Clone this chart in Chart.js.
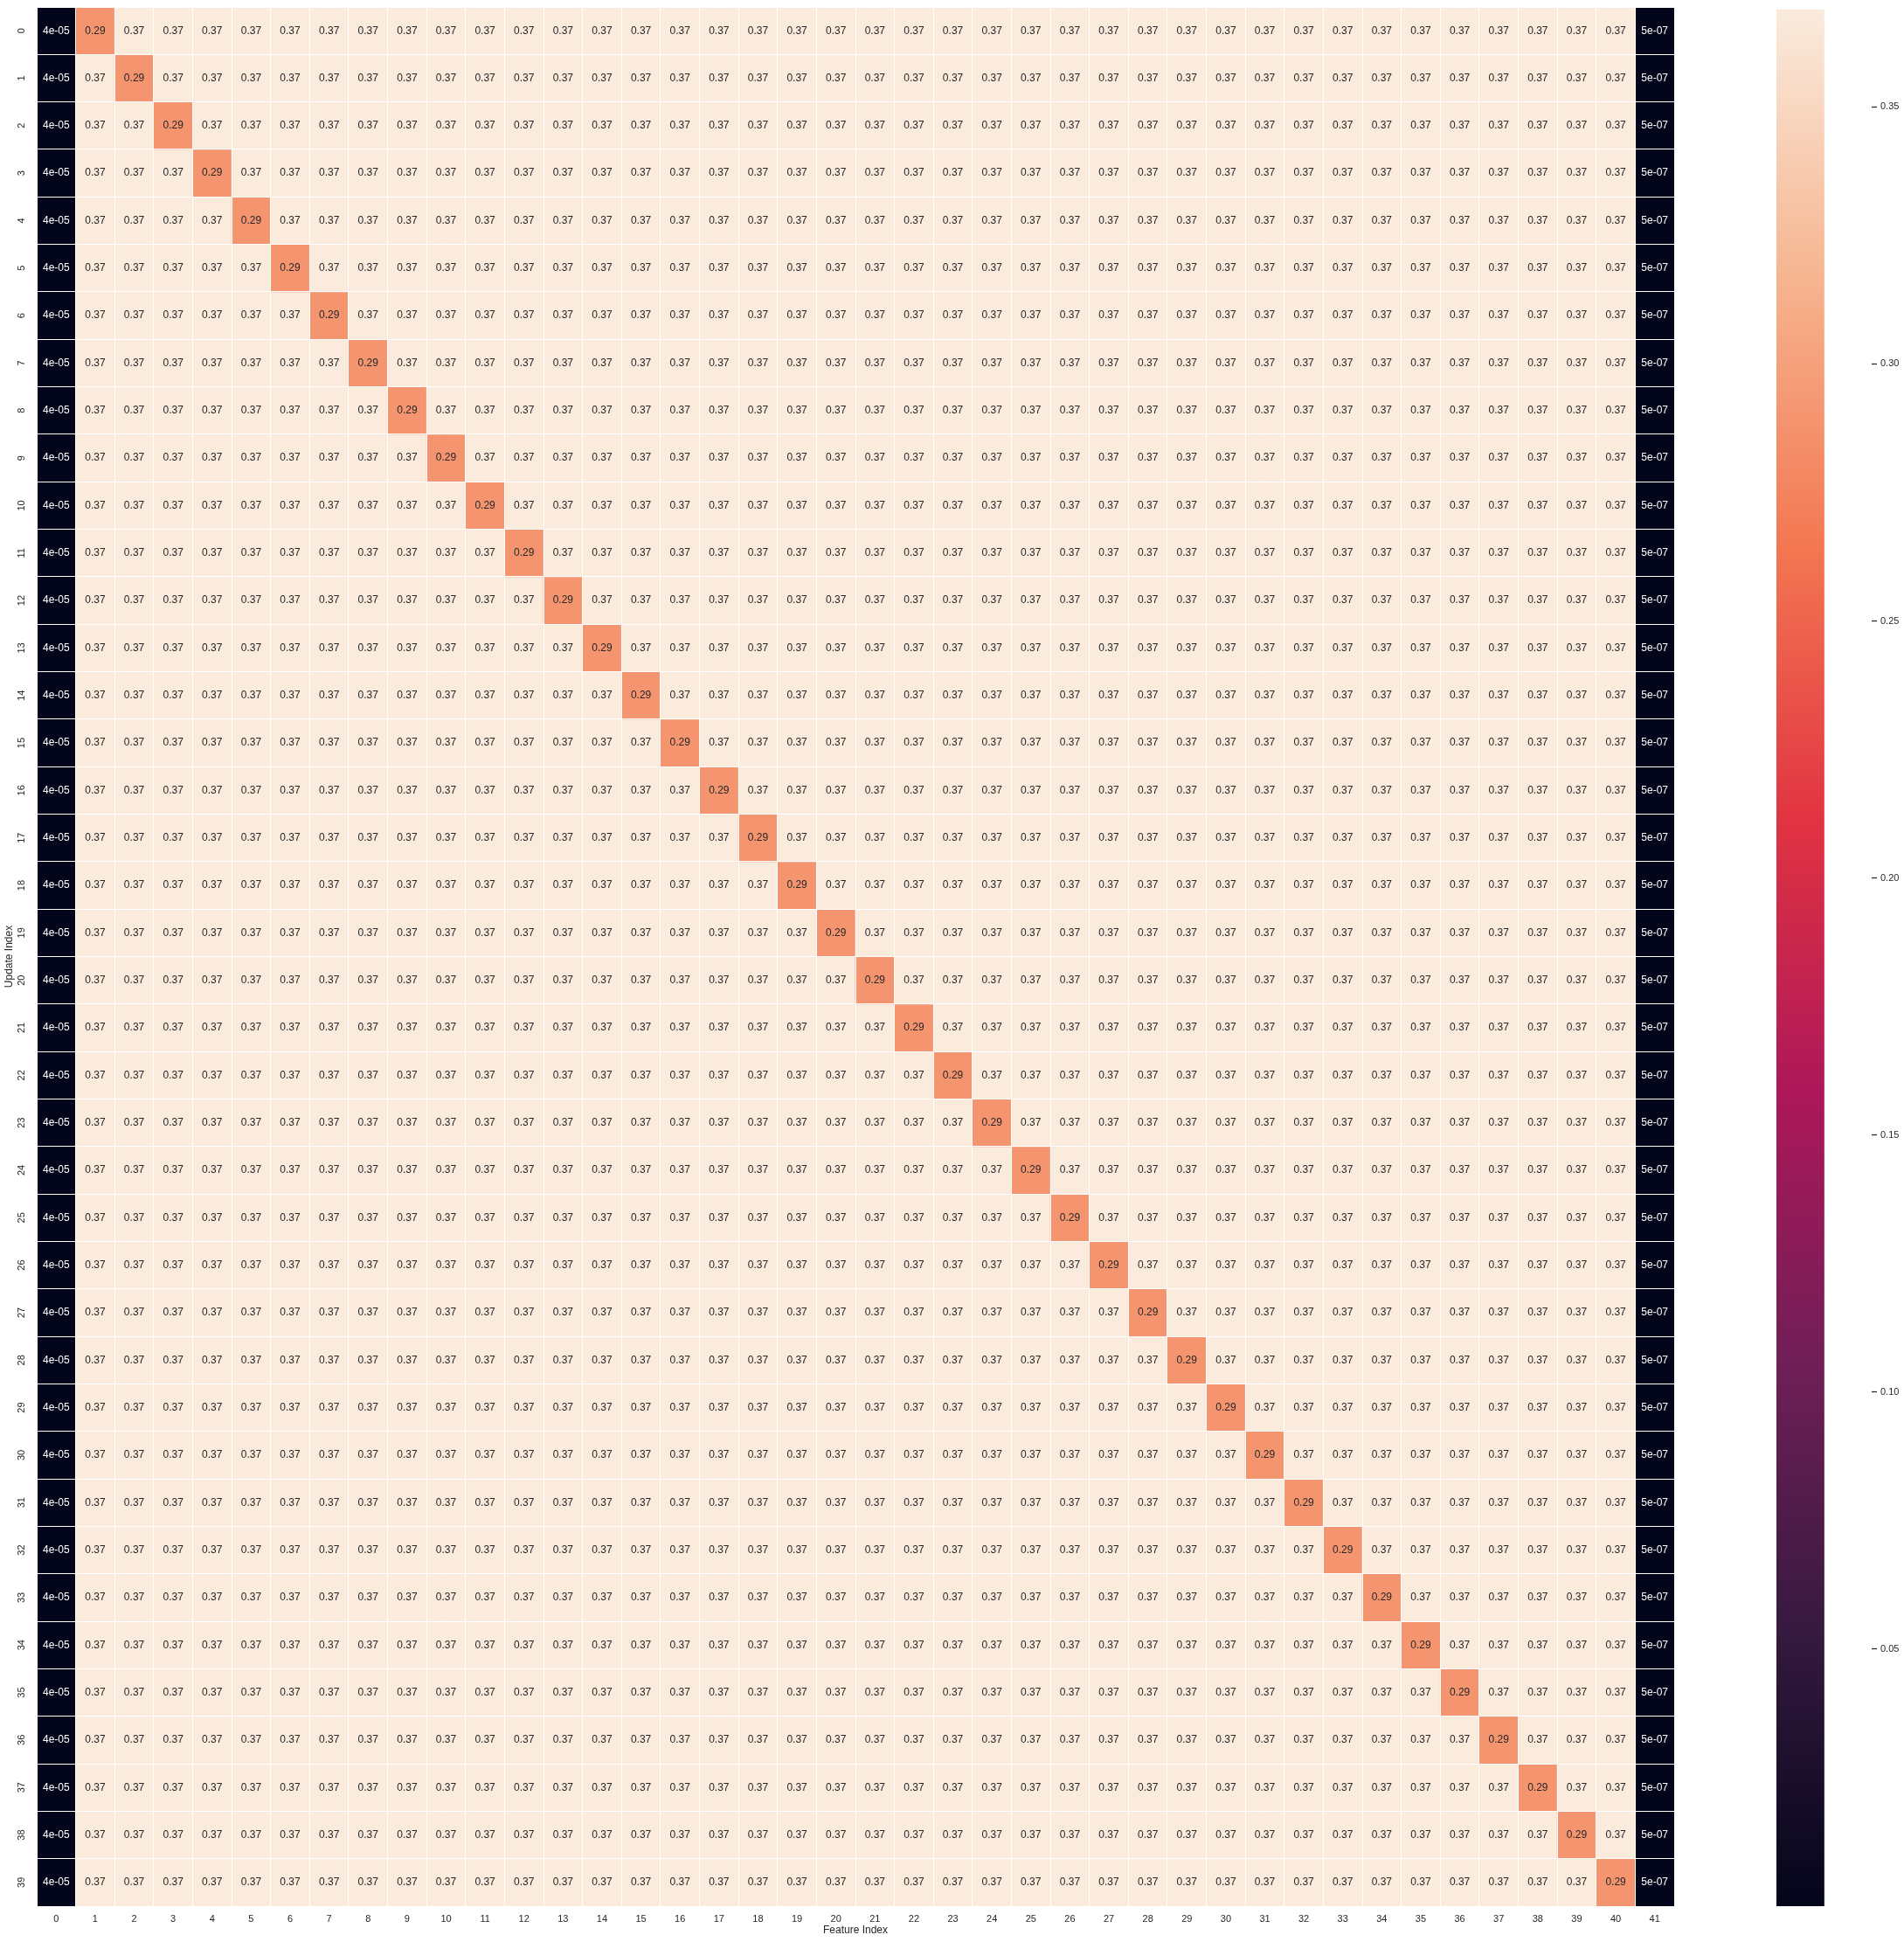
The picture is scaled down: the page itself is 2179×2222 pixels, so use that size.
<!DOCTYPE html>
<html><head><meta charset="utf-8">
<script src="https://cdn.jsdelivr.net/npm/chart.js@4/dist/chart.umd.min.js"></script>
<style>
html,body{margin:0;padding:0;background:#fff;}
#wrap{position:relative;width:2179px;height:2222px;overflow:hidden;}
#heat{position:absolute;left:0;top:0;}
#cbar{position:absolute;left:1990px;top:0;}
</style></head><body>
<div id="wrap">
<canvas id="heat" width="1930" height="2222"></canvas>
<canvas id="cbar" width="189" height="2222"></canvas>
</div>
<script>
// ---------------- data ----------------
const rowLabels = ['0','1','2','3','4','5','6','7','8','9','10','11','12','13','14','15','16','17','18','19',
  '20','21','22','23','24','25','26','27','28','29','30','31','32','33','34','35','36','37','38','39'];
const colLabels = ['0','1','2','3','4','5','6','7','8','9','10','11','12','13','14','15','16','17','18','19','20',
  '21','22','23','24','25','26','27','28','29','30','31','32','33','34','35','36','37','38','39','40','41'];
// value in feature column 0 for every update row
const firstColumnValues = [4e-05,4e-05,4e-05,4e-05,4e-05,4e-05,4e-05,4e-05,4e-05,4e-05,
  4e-05,4e-05,4e-05,4e-05,4e-05,4e-05,4e-05,4e-05,4e-05,4e-05,
  4e-05,4e-05,4e-05,4e-05,4e-05,4e-05,4e-05,4e-05,4e-05,4e-05,
  4e-05,4e-05,4e-05,4e-05,4e-05,4e-05,4e-05,4e-05,4e-05,4e-05];
// value in feature column 41 for every update row
const lastColumnValues = [5e-07,5e-07,5e-07,5e-07,5e-07,5e-07,5e-07,5e-07,5e-07,5e-07,
  5e-07,5e-07,5e-07,5e-07,5e-07,5e-07,5e-07,5e-07,5e-07,5e-07,
  5e-07,5e-07,5e-07,5e-07,5e-07,5e-07,5e-07,5e-07,5e-07,5e-07,
  5e-07,5e-07,5e-07,5e-07,5e-07,5e-07,5e-07,5e-07,5e-07,5e-07];
// the feature column holding the lower (0.29) value in each update row
const lowColumn = [1,2,3,4,5,6,7,8,9,10,11,12,13,14,15,16,17,18,19,20,
  21,22,23,24,25,26,27,28,29,30,31,32,33,34,35,36,37,38,39,40];
const lowValues = [0.29,0.29,0.29,0.29,0.29,0.29,0.29,0.29,0.29,0.29,
  0.29,0.29,0.29,0.29,0.29,0.29,0.29,0.29,0.29,0.29,
  0.29,0.29,0.29,0.29,0.29,0.29,0.29,0.29,0.29,0.29,
  0.29,0.29,0.29,0.29,0.29,0.29,0.29,0.29,0.29,0.29];
// every other cell
const otherValue = 0.369;
const colorbarTicks = [0.05,0.10,0.15,0.20,0.25,0.30,0.35];
const vmin = 5e-07, vmax = 0.369;

// ---------------- helpers ----------------
const FONT = '"Liberation Sans", Arial, "DejaVu Sans", sans-serif';
const TXT = '#262626';
const rocketStops = [
  [0.0,[3,5,26]],[1/7,[53,25,62]],[2/7,[112,31,87]],[3/7,[173,23,89]],
  [4/7,[225,51,66]],[5/7,[243,118,81]],[6/7,[246,180,143]],[1.0,[250,235,221]]
];
function rocketRGB(t){
  t=Math.max(0,Math.min(1,t));
  for(let i=1;i<rocketStops.length;i++){
    if(t<=rocketStops[i][0]){
      const [t0,c0]=rocketStops[i-1],[t1,c1]=rocketStops[i];
      const f=(t-t0)/(t1-t0);
      return c0.map((v,k)=>Math.round(v+(c1[k]-v)*f));
    }
  }
  return rocketStops[rocketStops.length-1][1];
}
const rgbStr = c => `rgb(${c[0]},${c[1]},${c[2]})`;
const norm = v => (v-vmin)/(vmax-vmin);
function fmtG2(v){
  if(v===0) return '0';
  const e=Math.floor(Math.log10(Math.abs(v)));
  if(e<-4||e>=2){
    const m=(v/Math.pow(10,e)).toPrecision(2).replace(/\.?0+$/,'');
    const es=(e<0?'-':'+')+String(Math.abs(e)).padStart(2,'0');
    return m+'e'+es;
  }
  return String(parseFloat(v.toPrecision(2)));
}
function lum(c){
  const f=x=>{x/=255;return x<=0.03928?x/12.92:Math.pow((x+0.055)/1.055,2.4);};
  return 0.2126*f(c[0])+0.7152*f(c[1])+0.0722*f(c[2]);
}

const matrix = rowLabels.map((_,r)=>colLabels.map((_,j)=>
  j===0 ? firstColumnValues[r] : j===colLabels.length-1 ? lastColumnValues[r] :
  j===lowColumn[r] ? lowValues[r] : otherValue));

// ---------------- plugins ----------------
const annotPlugin = {
  id:'annot',
  afterDatasetsDraw(chart){
    const ctx=chart.ctx;
    ctx.save();
    ctx.font='12px '+FONT;
    ctx.textAlign='center'; ctx.textBaseline='middle';
    chart.data.datasets.forEach((ds,di)=>{
      const meta=chart.getDatasetMeta(di);
      meta.data.forEach((el,j)=>{
        const v=ds.values[j];
        const c=rocketRGB(norm(v));
        ctx.fillStyle = lum(c)>0.408 ? TXT : '#ffffff';
        ctx.fillText(fmtG2(v), el.x, (el.y+el.base)/2);
      });
    });
    ctx.restore();
  }
};
const yTickPlugin = {
  id:'yticks',
  afterDraw(chart){
    const ctx=chart.ctx, ys=chart.scales.y, left=chart.chartArea.left;
    ctx.save();
    ctx.font='11px '+FONT; ctx.fillStyle=TXT;
    ctx.textAlign='center'; ctx.textBaseline='middle';
    rowLabels.forEach((lab,i)=>{
      ctx.save();
      ctx.translate(left-17, ys.getPixelForValue(i+0.5));
      ctx.rotate(-Math.PI/2);
      ctx.fillText(lab,0,0);
      ctx.restore();
    });
    ctx.restore();
  }
};

// ---------------- heatmap ----------------
new Chart(document.getElementById('heat'), {
  type:'bar',
  data:{
    labels: colLabels,
    datasets: matrix.map((row,r)=>({
      label: rowLabels[r],
      data: row.map(()=>1),
      values: row,
      backgroundColor: row.map(v=>rgbStr(rocketRGB(norm(v)))),
      borderWidth:0,
      stack:'s',
      barPercentage:1, categoryPercentage:1
    }))
  },
  options:{
    responsive:false, animation:false, devicePixelRatio:1,
    layout:{padding:{left:0,top:8,right:14,bottom:0}},
    plugins:{legend:{display:false},tooltip:{enabled:false}},
    scales:{
      x:{
        stacked:true, offset:true,
        grid:{display:true, offset:true, color:'#ffffff', lineWidth:1, drawTicks:false, z:1},
        border:{display:false},
        ticks:{color:TXT, font:{family:FONT,size:11}, padding:8, maxRotation:0, minRotation:0, autoSkip:false},
        title:{display:true, text:'Feature Index', color:TXT, font:{family:FONT,size:12}, padding:{top:0,bottom:6}},
        afterFit(s){ s.height=41; }
      },
      y:{
        stacked:true, min:0, max:40, reverse:true,
        grid:{color:'#ffffff', lineWidth:1, drawTicks:false, z:1},
        border:{display:false},
        ticks:{stepSize:1, display:false},
        title:{display:true, text:'Update Index', color:TXT, font:{family:FONT,size:12}, padding:{top:3,bottom:0}},
        afterFit(s){ s.width=42; }
      }
    }
  },
  plugins:[annotPlugin, yTickPlugin]
});

// ---------------- colorbar ----------------
new Chart(document.getElementById('cbar'), {
  type:'bar',
  data:{
    labels:['cbar'],
    datasets:[{
      data:[[vmin,vmax]],
      borderWidth:0, barPercentage:1, categoryPercentage:1,
      backgroundColor(c){
        const ca=c.chart.chartArea;
        if(!ca) return '#000';
        const g=c.chart.ctx.createLinearGradient(0,ca.bottom,0,ca.top);
        rocketStops.forEach(([t,col])=>g.addColorStop(t,rgbStr(col)));
        return g;
      }
    }]
  },
  options:{
    responsive:false, animation:false, devicePixelRatio:1,
    layout:{padding:{left:43,top:7,right:0,bottom:41}},
    plugins:{legend:{display:false},tooltip:{enabled:false}},
    scales:{
      x:{display:false, offset:false},
      y:{
        position:'right', min:vmin, max:vmax,
        afterBuildTicks(s){ s.ticks = colorbarTicks.map(v=>({value:v})); },
        grid:{drawOnChartArea:false, drawTicks:true, tickLength:6, tickColor:TXT, tickWidth:1.25},
        border:{display:false},
        ticks:{padding:4, color:TXT, font:{family:FONT,size:11}, callback:v=>Number(v).toFixed(2)},
        afterFit(s){ s.width=37; }
      }
    }
  }
});
</script>
</body></html>
